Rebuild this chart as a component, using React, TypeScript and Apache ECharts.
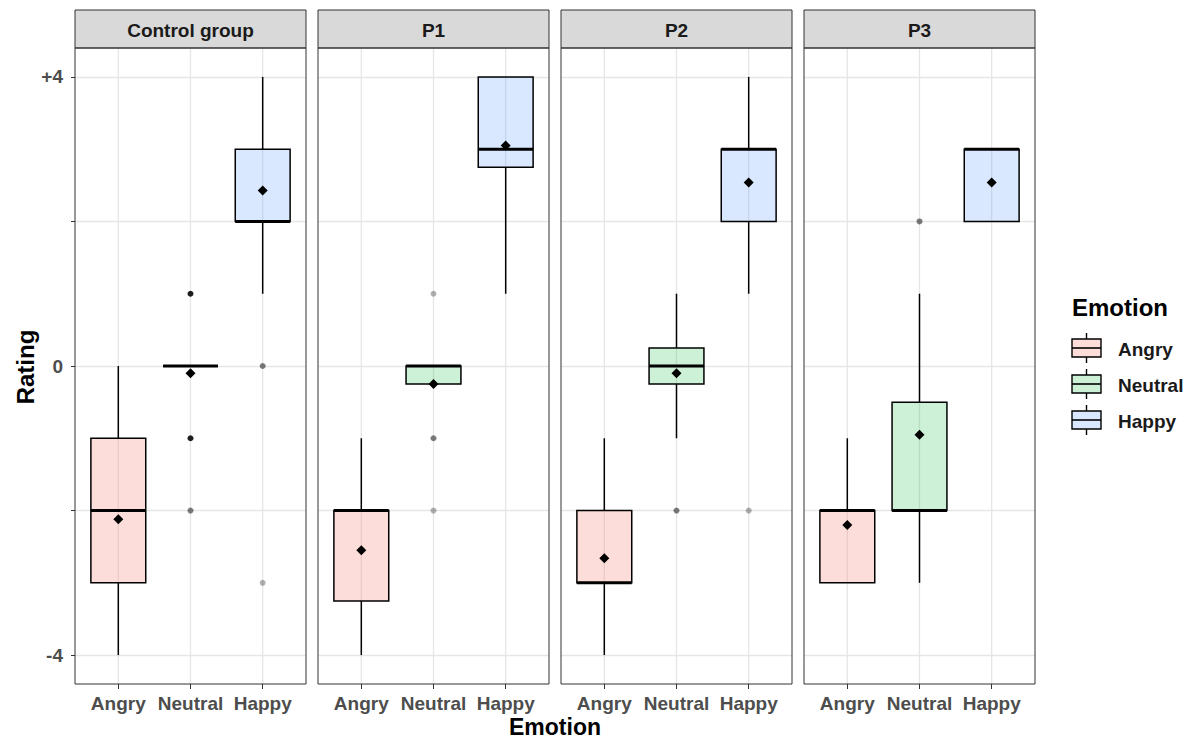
import React, { useEffect, useRef } from 'react';
import * as echarts from 'echarts';

const panels = ['Control group', 'P1', 'P2', 'P3'];
const emotions = ['Angry', 'Neutral', 'Happy'];
const xTickValues = [1, 2, 3];
const yTickValues = [-4, -2, 0, 2, 4];
const yLabelValues = [-4, 0, 4];

// [lower whisker, Q1, median, Q3, upper whisker] for Angry, Neutral, Happy
const controlStats = [[-4, -3, -2, -1, 0], [0, 0, 0, 0, 0], [1, 2, 2, 3, 4]];
const p1Stats = [[-4, -3.25, -2, -2, -1], [-0.25, -0.25, 0, 0, 0], [1, 2.75, 3, 4, 4]];
const p2Stats = [[-4, -3, -3, -2, -1], [-1, -0.25, 0, 0.25, 1], [1, 2, 3, 3, 4]];
const p3Stats = [[-3, -3, -2, -2, -1], [-3, -2, -2, -0.5, 1], [2, 2, 3, 3, 3]];

// means for Angry, Neutral, Happy
const controlMeans = [-2.12, -0.1, 2.43];
const p1Means = [-2.55, -0.25, 3.05];
const p2Means = [-2.66, -0.1, 2.54];
const p3Means = [-2.2, -0.95, 2.54];

// outliers: [emotion position (1-3), value, number of overlapping points]
const controlOutliers = [[2, 1, 6], [2, -1, 6], [2, -2, 2], [3, 0, 2], [3, -3, 1]];
const p1Outliers = [[2, 1, 1], [2, -1, 2], [2, -2, 1]];
const p2Outliers = [[2, -2, 2], [3, -2, 1]];
const p3Outliers = [[2, 2, 2]];

const boxStats = [controlStats, p1Stats, p2Stats, p3Stats];
const meanValues = [controlMeans, p1Means, p2Means, p3Means];
const outlierValues = [controlOutliers, p1Outliers, p2Outliers, p3Outliers];

const fillColors = ['rgba(248,118,109,0.25)', 'rgba(0,186,56,0.2)', 'rgba(97,156,255,0.23)'];
const FONT = '"Liberation Sans", Arial, Helvetica, sans-serif';
const GRID_COLOR = '#e6e6e6';

const gridLeft = [75, 318, 561, 804];
const GRID_TOP = 48;
const GRID_W = 231;
const GRID_H = 636;
const Y_MIN = -4.4;
const Y_MAX = 4.4;

export default function App() {
  const ref = useRef<HTMLDivElement>(null);

  useEffect(() => {
    document.body.style.margin = '0';
    const chart = echarts.init(ref.current!, null, { renderer: 'svg' });

    const grids = gridLeft.map((l) => ({
      left: l,
      top: GRID_TOP,
      width: GRID_W,
      height: GRID_H,
      show: false,
    }));

    const xAxes = gridLeft.map((_, i) => ({
      gridIndex: i,
      type: 'value',
      position: 'bottom',
      min: 0.4,
      max: 3.6,
      minInterval: 1,
      maxInterval: 1,
      axisLine: { show: false, onZero: false },
      axisTick: {
        show: true,
        customValues: xTickValues,
        length: 5,
        lineStyle: { color: '#333', width: 1 },
      },
      axisLabel: {
        show: true,
        customValues: xTickValues,
        formatter: (v: number) => emotions[Math.round(v) - 1] ?? '',
        fontSize: 19,
        fontWeight: 'bold',
        fontFamily: FONT,
        color: '#4d4d4d',
        margin: 10,
      },
      splitLine: { show: false },
    }));

    const yAxes = gridLeft.map((_, i) => ({
      gridIndex: i,
      type: 'value',
      position: 'left',
      min: Y_MIN,
      max: Y_MAX,
      minInterval: 1,
      maxInterval: 1,
      axisLine: { show: false, onZero: false },
      axisTick: {
        show: i === 0,
        customValues: yTickValues,
        length: 4,
        lineStyle: { color: '#333', width: 1 },
      },
      axisLabel: {
        show: i === 0,
        customValues: yLabelValues,
        formatter: (v: number) => (v > 0 ? `+${v}` : `${v}`),
        fontSize: 19,
        fontWeight: 'bold',
        fontFamily: FONT,
        color: '#4d4d4d',
        margin: 12,
      },
      splitLine: { show: true, lineStyle: { color: GRID_COLOR, width: 1.3 } },
    }));

    const series: any[] = [];
    panels.forEach((_, i) => {
      // vertical grid lines at the category positions
      series.push({
        type: 'custom',
        xAxisIndex: i,
        yAxisIndex: i,
        silent: true,
        z: 1,
        encode: { x: 0, y: [1, 2] },
        data: xTickValues.map((v) => [v, Y_MIN, Y_MAX]),
        renderItem: (params: any, api: any) => {
          const x = api.value(0);
          const bot = api.coord([x, api.value(1)]);
          const top = api.coord([x, api.value(2)]);
          return {
            type: 'line',
            shape: { x1: top[0], y1: top[1], x2: bot[0], y2: bot[1] },
            style: { stroke: GRID_COLOR, lineWidth: 1.3 },
          };
        },
      });
      series.push({
        type: 'custom',
        xAxisIndex: i,
        yAxisIndex: i,
        silent: true,
        z: 3,
        encode: { x: 0, y: [1, 2, 3, 4, 5] },
        data: boxStats[i].map((s, j) => [j + 1, ...s, j]),
        renderItem: (params: any, api: any) => {
          const x = api.value(0);
          const lo = api.coord([x, api.value(1)]);
          const q1 = api.coord([x, api.value(2)]);
          const med = api.coord([x, api.value(3)]);
          const q3 = api.coord([x, api.value(4)]);
          const hi = api.coord([x, api.value(5)]);
          const half = api.size([0.76, 0])[0] / 2;
          const cx = q1[0];
          const fill = fillColors[api.value(6)];
          return {
            type: 'group',
            children: [
              {
                type: 'line',
                shape: { x1: cx, y1: q1[1], x2: cx, y2: lo[1] },
                style: { stroke: '#000', lineWidth: 1.5 },
              },
              {
                type: 'line',
                shape: { x1: cx, y1: q3[1], x2: cx, y2: hi[1] },
                style: { stroke: '#000', lineWidth: 1.5 },
              },
              {
                type: 'rect',
                shape: { x: cx - half, y: q3[1], width: half * 2, height: q1[1] - q3[1] },
                style: { fill, stroke: '#000', lineWidth: 1.5 },
              },
              {
                type: 'line',
                shape: { x1: cx - half, y1: med[1], x2: cx + half, y2: med[1] },
                style: { stroke: '#000', lineWidth: 3 },
              },
            ],
          };
        },
      });
      series.push({
        type: 'scatter',
        xAxisIndex: i,
        yAxisIndex: i,
        silent: true,
        z: 4,
        symbol: 'circle',
        symbolSize: 6,
        itemStyle: { color: '#000' },
        data: outlierValues[i].map(([e, v, n]) => ({
          value: [e, v],
          itemStyle: { color: '#000', opacity: 1 - Math.pow(0.7, n) },
        })),
      });
      series.push({
        type: 'scatter',
        xAxisIndex: i,
        yAxisIndex: i,
        silent: true,
        z: 5,
        symbol: 'diamond',
        symbolSize: 10,
        itemStyle: { color: '#000', opacity: 1 },
        data: meanValues[i].map((m, j) => [j + 1, m]),
      });
    });

    const graphics: any[] = [];
    panels.forEach((name, i) => {
      graphics.push({
        type: 'rect',
        z: 100,
        silent: true,
        shape: { x: gridLeft[i], y: 10, width: GRID_W, height: GRID_TOP - 10 },
        style: { fill: '#d9d9d9', stroke: '#333', lineWidth: 1 },
      });
      graphics.push({
        type: 'text',
        z: 101,
        silent: true,
        x: gridLeft[i] + GRID_W / 2,
        y: 30,
        style: {
          text: name,
          fill: '#1a1a1a',
          font: `bold 19px ${FONT}`,
          textAlign: 'center',
          textVerticalAlign: 'middle',
        },
      });
      graphics.push({
        type: 'rect',
        z: 100,
        silent: true,
        shape: { x: gridLeft[i], y: GRID_TOP, width: GRID_W, height: GRID_H },
        style: { fill: 'none', stroke: '#333', lineWidth: 1 },
      });
    });

    graphics.push({
      type: 'text',
      silent: true,
      x: 25,
      y: 367,
      rotation: Math.PI / 2,
      style: {
        text: 'Rating',
        fill: '#000',
        font: `bold 24px ${FONT}`,
        textAlign: 'center',
        textVerticalAlign: 'middle',
      },
    });
    graphics.push({
      type: 'text',
      silent: true,
      x: 555,
      y: 727,
      style: {
        text: 'Emotion',
        fill: '#000',
        font: `bold 23px ${FONT}`,
        textAlign: 'center',
        textVerticalAlign: 'middle',
      },
    });

    // legend
    graphics.push({
      type: 'text',
      silent: true,
      x: 1072,
      y: 307,
      style: {
        text: 'Emotion',
        fill: '#000',
        font: `bold 24px ${FONT}`,
        textAlign: 'left',
        textVerticalAlign: 'middle',
      },
    });
    emotions.forEach((em, j) => {
      const cy = 348 + j * 36;
      const kx = 1072;
      const kw = 29;
      const cx = kx + kw / 2;
      graphics.push({
        type: 'line',
        silent: true,
        shape: { x1: cx, y1: cy - 15, x2: cx, y2: cy + 15 },
        style: { stroke: '#000', lineWidth: 1.4 },
      });
      graphics.push({
        type: 'rect',
        silent: true,
        shape: { x: kx, y: cy - 9, width: kw, height: 18 },
        style: { fill: '#fff', stroke: 'none' },
      });
      graphics.push({
        type: 'rect',
        silent: true,
        shape: { x: kx, y: cy - 9, width: kw, height: 18 },
        style: { fill: fillColors[j], stroke: '#000', lineWidth: 1.4 },
      });
      graphics.push({
        type: 'line',
        silent: true,
        shape: { x1: kx, y1: cy, x2: kx + kw, y2: cy },
        style: { stroke: '#000', lineWidth: 1.6 },
      });
      graphics.push({
        type: 'text',
        silent: true,
        x: 1118,
        y: cy + 1,
        style: {
          text: em,
          fill: '#1a1a1a',
          font: `bold 19px ${FONT}`,
          textAlign: 'left',
          textVerticalAlign: 'middle',
        },
      });
    });

    chart.setOption({
      animation: false,
      backgroundColor: '#fff',
      grid: grids,
      xAxis: xAxes,
      yAxis: yAxes,
      series,
      graphic: { elements: graphics },
    });

    return () => chart.dispose();
  }, []);

  return (
    <div
      ref={ref}
      style={{ width: 1195, height: 740, position: 'absolute', left: 0, top: 0 }}
    />
  );
}
